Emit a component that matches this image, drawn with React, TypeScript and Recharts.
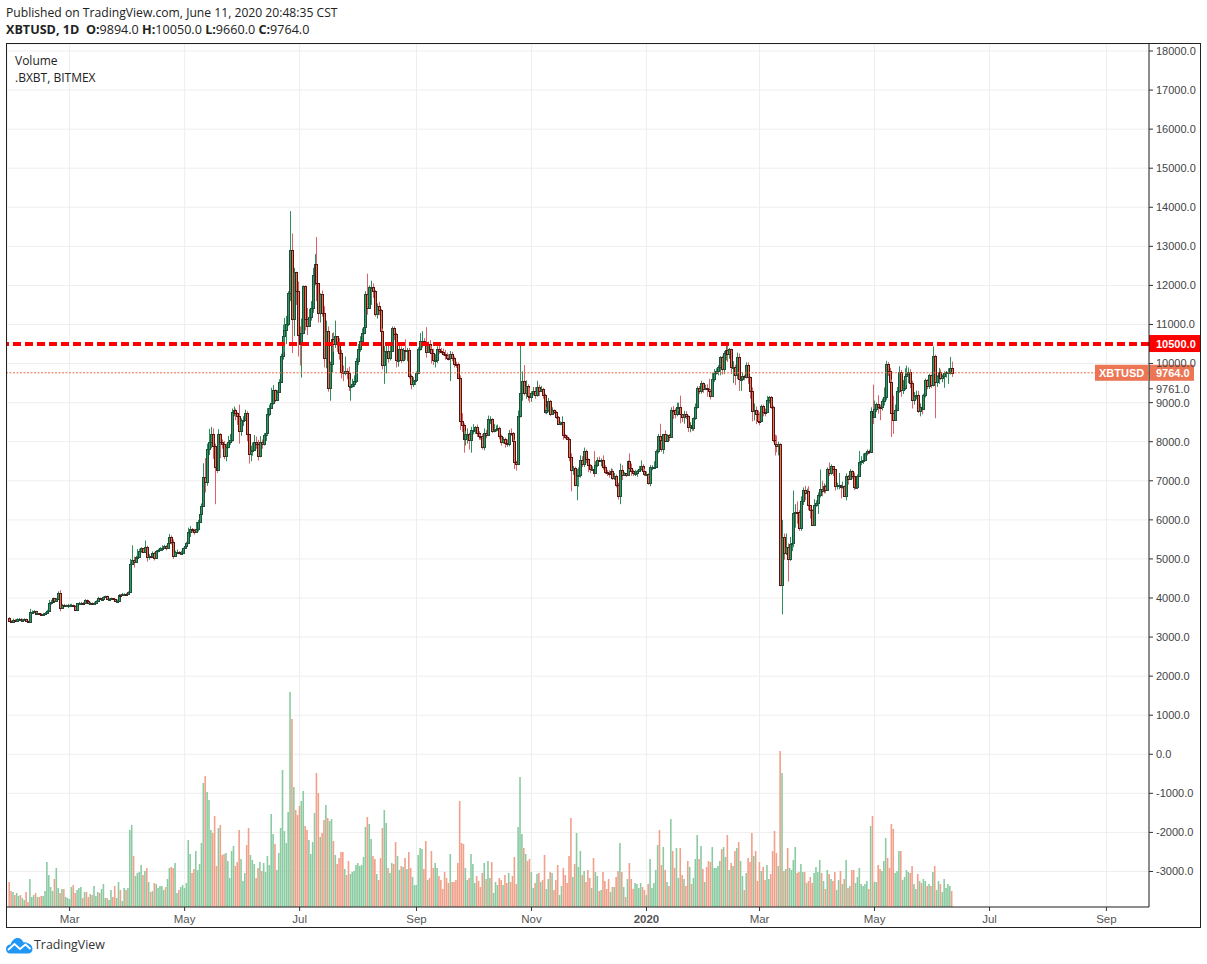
import React from "react";
import { ComposedChart, Bar, XAxis, YAxis, CartesianGrid, ReferenceLine } from "recharts";

const firstOpen = 3500;
const closes = [
  // 2019 Jan 28-31
  3400,3390,3430,3420,
  // Feb
  3450,3470,3430,3440,3460,3400,3390,3640,3640,3660,3600,3610,3590,3580,3590,3610,3670,3880,3900,3990,3930,3980,4130,3750,3820,3810,3810,3810,
  // Mar
  3820,3820,3790,3690,3860,3865,3875,3860,3945,3915,3860,3870,3860,3875,3920,4000,3980,3985,4025,4040,3985,3985,3990,3970,3925,3935,4080,4070,4105,4105,4100,
  // Apr
  4145,4880,4980,4910,5040,5050,5190,5280,5185,5300,5040,5080,5075,5160,5030,5205,5225,5285,5290,5320,5290,5400,5570,5430,5080,5170,5170,5155,5160,5270,
  // May
  5335,5400,5700,5760,5730,5685,5760,5950,6160,6350,7100,6980,7810,7980,8190,7880,7350,7270,8200,7980,7950,7640,7870,7990,8050,8750,8800,8730,8670,8270,8560,
  // Jun
  8560,8740,8200,7680,7800,7800,8000,7930,7630,8000,7930,8170,8220,8700,8850,8980,9330,9080,9270,9530,10200,10700,10850,11000,11800,12900,11130,12350,11850,10720,
  // Jul
  10500,10780,11980,11130,10960,11190,11430,12270,12540,12050,11300,11770,11300,10140,10830,9380,9980,10620,10500,10700,10560,10270,9780,9750,9800,9750,9430,9430,9470,9550,10060,
  // Aug
  10370,10580,10790,10930,11770,11430,11960,11960,11850,11260,11470,11360,10830,9970,10320,10320,10150,10320,10900,10750,10100,10100,10360,10100,10340,10320,10340,9680,9470,9550,9570,
  // Sep
  9760,10360,10580,10580,10540,10300,10490,10360,10270,10080,10080,10370,10320,10300,10250,10220,10150,10130,10250,10130,10000,9990,9640,8530,8430,8060,8190,8200,8050,8300,
  // Oct
  8300,8370,8230,8150,8140,7860,8210,8180,8590,8590,8270,8300,8330,8360,8150,8000,8070,7960,7950,8230,8220,8020,7470,7430,8660,9250,9550,9250,9430,9170,9150,
  // Nov
  9250,9300,9200,9400,9310,9350,9200,8770,8810,9040,8720,8810,8760,8630,8460,8490,8500,8170,8120,8080,7620,7280,7330,6900,7130,7160,7520,7430,7750,7560,
  // Dec
  7400,7300,7300,7200,7400,7540,7510,7530,7340,7220,7200,7190,7250,7070,7120,6880,6620,7280,7150,7190,7150,7510,7320,7250,7190,7200,7250,7310,7390,7250,7170,
  // 2020 Jan
  7180,6950,7340,7350,7350,7760,8150,8040,7810,8190,8020,8180,8110,8820,8810,8720,8900,8900,8700,8620,8720,8660,8380,8430,8340,8600,8890,9380,9300,9500,9340,
  // Feb
  9380,9340,9290,9170,9610,9750,9800,9900,10170,9860,10270,10350,10240,10360,9900,9920,9700,10170,9600,9600,9690,9660,9970,9650,9310,8790,8810,8710,8530,
  // Mar
  8520,8910,8760,8750,9060,9150,8900,8040,7930,7900,7940,4320,5570,5140,5310,5000,5390,5400,6180,6200,6190,5790,6490,6760,6680,6730,6370,6250,5880,6390,6420,
  // Apr
  6640,6790,6730,6860,6770,7300,7200,7370,7300,6860,6890,6900,6850,6860,6620,7110,7040,7260,7130,6830,6850,7130,7490,7510,7540,7700,7770,7740,8790,8620,
  // May
  8830,8970,8900,8880,9030,9150,9990,9810,9540,8730,8560,8810,9310,9790,9320,9380,9680,9730,9780,9510,9060,9170,9190,8790,8900,8840,9200,9570,9430,9700,9450,
  // Jun
  10200,9520,9670,9790,9620,9670,9750,9780,9790,9894,9764,
];

const highs = [
  3510,3430,3470,3460,
  3480,3490,3480,3470,3480,3470,3420,3720,3680,3690,3670,3640,3620,3610,3620,3640,3700,3950,3950,4010,3990,4000,4170,4200,3850,3850,3830,3850,
  3850,3850,3830,3810,3870,3900,3900,3900,3970,3960,3930,3900,3890,3900,3940,4030,4010,4000,4040,4060,4060,4000,4010,4000,3980,3960,4100,4100,4130,4120,4130,
  4170,5000,5350,5060,5080,5250,5260,5300,5280,5470,5340,5120,5120,5190,5180,5230,5260,5300,5350,5360,5350,5420,5640,5600,5500,5210,5240,5200,5210,5290,
  5380,5440,5800,5840,5790,5770,5950,6000,6200,6420,7450,7580,7950,8330,8380,8340,7950,7500,8320,8220,8060,8020,7950,8150,8200,8850,8900,8850,8750,8950,8600,
  8650,8820,8780,8200,7900,7980,8170,8130,8050,8140,8060,8220,8350,8860,8950,9380,9450,9340,9320,9600,10250,11000,11170,11220,11850,13900,13330,12450,12200,12100,
  10950,11150,12000,12000,11420,11400,11600,12450,12800,13240,11850,11800,11870,11470,11100,10950,10050,10780,10800,11100,10680,10650,10350,9950,10180,9880,9920,9590,9610,9700,10140,
  10500,10700,10900,11080,11850,12300,12000,12120,12050,11880,11540,11580,11400,10900,10450,10480,10460,10450,10950,10950,10790,10250,10460,10440,10400,10620,10400,10400,9720,9650,9680,
  9800,10420,10780,10830,10650,10930,10560,10600,10450,10380,10240,10440,10450,10400,10380,10350,10280,10240,10320,10300,10180,10050,10030,9700,8730,8470,8270,8340,8230,8380,
  8450,8400,8440,8270,8180,8200,8340,8300,8670,8650,8600,8450,8420,8440,8390,8180,8120,8100,8060,8300,8340,8250,8050,7510,8800,10540,9800,9960,9570,9470,9380,
  9290,9400,9400,9560,9460,9430,9380,9230,8880,9120,9070,8880,8830,8790,8660,8520,8650,8510,8200,8160,8100,7700,7380,7360,7300,7340,7650,7630,7850,7800,
  7570,7430,7370,7760,7500,7600,7620,7570,7650,7400,7280,7270,7320,7300,7200,7160,6950,7440,7400,7220,7200,7520,7700,7440,7280,7280,7280,7380,7520,7420,7310,
  7240,7190,7400,7400,7500,7800,8200,8460,8050,8200,8290,8190,8200,8880,8910,8850,9000,9000,9180,8700,8790,8780,8680,8500,8460,8620,8980,9420,9430,9560,9520,
  9460,9470,9610,9350,9770,9860,9880,9960,10190,10200,10320,10480,10540,10400,10380,10060,9970,10280,10260,9680,9780,9710,10030,10030,9670,9390,8980,8900,8800,
  8750,8950,8950,8850,9170,9170,9170,8920,8180,8160,8000,7960,6000,5650,5650,5400,5560,5450,6750,6400,6470,6250,6600,6830,6870,6800,6860,6300,6270,6530,6500,
  6700,7290,7000,6930,6900,7340,7470,7420,7380,7300,6950,7200,6900,6980,6880,7190,7150,7300,7270,7210,6920,7160,7760,7630,7700,7720,7800,7800,8880,9460,
  9050,9000,9190,8950,9100,9390,10070,10040,9890,9590,9180,8950,9400,9930,9840,9580,9880,9950,9900,9860,9560,9270,9310,9300,8980,9010,9230,9620,9600,9740,9720,
  10440,10230,9700,9890,9850,9720,9800,9810,9880,10170,10050,
];

const lows = [
  3390,3370,3380,3390,
  3420,3430,3410,3420,3430,3390,3360,3390,3590,3610,3590,3580,3570,3560,3560,3580,3600,3660,3830,3890,3900,3920,3960,3660,3720,3770,3770,3740,
  3780,3790,3770,3670,3680,3840,3850,3830,3850,3890,3840,3820,3840,3850,3870,3910,3950,3950,3960,4000,3970,3950,3970,3950,3900,3900,3920,4040,4050,4080,4070,
  4090,4130,4850,4780,4900,5000,5040,5160,5160,5160,4930,4980,5020,5040,4960,5010,5170,5200,5200,5260,5220,5260,5380,5370,5000,5060,5140,5120,5110,5130,
  5270,5320,5380,5560,5670,5620,5680,5700,5920,6120,6350,6700,6870,7660,7830,7560,6400,7200,7250,7580,7820,7550,7500,7830,7920,8000,8650,8550,8430,7950,8150,
  8400,8550,8010,7440,7500,7640,7800,7820,7520,7600,7820,7900,8020,8160,8650,8850,8950,9010,9070,9270,9500,10100,10300,10500,10960,11600,10270,10700,11500,10180,
  9950,9640,10750,10850,10730,10950,11100,11300,12000,11600,11050,11050,11200,9900,9880,9280,9050,9780,10300,10400,10300,10100,9620,9550,9700,9600,9300,9050,9380,9400,9500,
  9960,10300,10530,10750,10920,11250,11420,11500,11680,11200,11150,11240,10750,9850,9480,9750,10020,10080,10320,10600,9900,9920,10040,10010,10050,10100,10060,9620,9340,9400,9450,
  9550,9730,10330,10410,10460,10150,10280,10250,10000,9960,9900,10010,10250,10260,10200,10100,10100,10080,9550,10060,9900,9890,9600,8300,8250,7720,7900,7950,7800,7720,
  8190,8200,8120,8050,8050,7800,7780,8090,8150,8450,8220,8240,8260,8270,8060,7900,7950,7850,7870,7880,8150,8000,7300,7260,7400,8620,9050,9180,9100,9050,9000,
  9020,9180,9100,9150,9170,9280,9100,8720,8700,8750,8650,8690,8710,8580,8430,8420,8420,8050,8070,8040,7500,6730,7150,6860,6500,6850,7080,7350,7350,7450,
  7220,7200,7250,7100,7200,7350,7480,7370,7280,7170,7120,7080,7160,7020,7020,6830,6520,6400,7020,7120,7100,7130,7260,7130,7120,7120,7100,7240,7260,7200,7120,
  7140,6900,6860,7270,7300,7340,7700,7800,7740,7690,8000,8000,8020,8100,8580,8600,8650,8780,8470,8500,8460,8580,8250,8240,8270,8280,8560,8850,9220,9230,9250,
  9320,9150,9230,9080,9150,9530,9720,9700,9700,9720,9730,10080,10040,10120,9730,9500,9450,9600,9300,9300,9570,9570,9620,9480,9100,8520,8540,8450,8500,
  8420,8500,8650,8650,8730,8980,8840,7980,7650,7730,7650,4300,3580,4980,5100,4420,4950,5200,5300,5800,5900,5720,5720,6380,6500,6500,6250,6030,5860,5850,6330,
  6150,6570,6600,6680,6680,6770,7120,7150,7120,6750,6780,6780,6550,6800,6590,6500,6900,7030,7050,6760,6790,6810,7100,7400,7430,7500,7650,7680,7720,8450,
  8620,8760,8720,8550,8800,8930,9060,9680,9480,8120,8200,8550,8780,9250,9150,9220,9320,9440,9500,9370,8850,8950,9080,8740,8650,8700,8820,9130,9340,9350,9370,
  9420,8600,9400,9480,9580,9520,9380,9640,9480,9720,9660,
];

const volumes = [
  25,16,15,12,14,11,12,9,7,15,5,28,10,12,14,10,10,11,11,16,
  45,32,20,16,28,39,19,14,18,18,10,9,8,20,22,14,17,19,20,9,
  15,15,10,13,12,21,11,15,14,18,23,9,9,7,17,10,21,9,25,17,
  6,19,17,19,77,82,51,31,34,35,42,32,36,39,25,15,16,24,23,19,
  21,21,17,20,28,39,40,39,44,14,17,20,22,19,24,67,53,34,38,56,
  37,43,64,124,131,115,107,77,74,91,41,79,82,52,53,54,46,29,56,61,
  41,45,77,48,26,34,62,79,52,47,43,29,39,45,36,44,35,51,42,93,
  73,63,37,54,79,137,76,64,95,215,188,120,97,92,101,106,116,81,77,67,
  53,65,94,134,114,70,74,87,102,89,86,88,66,52,43,49,55,55,38,32,
  46,33,35,36,42,44,41,42,50,80,90,83,68,51,48,33,27,49,79,97,
  84,39,34,44,43,65,51,37,41,40,49,38,55,39,30,22,22,52,59,58,
  38,66,27,29,56,39,44,39,31,27,18,35,29,24,53,25,25,27,44,106,
  64,63,39,27,29,53,43,24,31,26,20,34,44,28,46,29,45,14,25,22,
  29,27,22,32,24,34,25,31,50,23,80,130,73,59,53,46,48,35,19,24,
  33,34,25,27,52,18,28,35,34,17,27,42,12,21,39,32,24,51,89,30,
  43,74,40,56,32,36,25,37,29,19,49,35,31,16,17,35,26,18,28,15,
  20,20,30,36,64,35,20,10,28,44,28,18,24,23,19,24,20,17,12,23,
  48,19,24,37,62,77,42,60,37,25,21,88,56,39,59,29,59,32,28,21,
  46,40,23,29,48,72,48,61,38,25,40,46,45,60,39,39,41,46,58,60,
  50,72,37,44,41,56,59,65,46,31,17,34,49,45,74,51,56,26,45,36,
  40,27,42,28,33,56,76,54,41,156,134,36,38,59,39,37,47,60,34,35,
  43,35,35,24,26,30,24,34,40,35,47,34,26,18,37,33,28,26,35,17,
  27,36,23,28,47,19,21,37,37,24,30,39,23,21,23,26,18,81,91,25,
  25,42,38,36,46,69,49,39,83,78,34,36,56,56,27,30,37,35,34,41,
  23,18,33,26,24,28,26,21,23,21,35,41,17,26,23,15,28,19,23,21,16,
];

const monthTicks = [32, 93, 154, 216, 277, 338, 398, 459, 520, 582];
const monthLabels = ["Mar", "May", "Jul", "Sep", "Nov", "2020", "Mar", "May", "Jul", "Sep"];
const priceTicks = [
  -3000, -2000, -1000, 0, 1000, 2000, 3000, 4000, 5000, 6000, 7000, 8000, 9000, 10000,
  11000, 12000, 13000, 14000, 15000, 16000, 17000, 18000,
];
const resistance = 10500;
const lastClose = 9764;
const countdownValue = "9761.0";

const table = closes.map((close, i) => {
  const open = i === 0 ? firstOpen : closes[i - 1];
  const high = Math.max(highs[i], open, close);
  const low = Math.min(lows[i], open, close);
  return { i, open, close, high, low, range: [low, high], volume: volumes[i] ?? 0 };
});

const UP_FILL = "#2f9a64";
const UP_EDGE = "#1f4f3a";
const UP_WICK = "#2f8f5c";
const DOWN_FILL = "#ee7350";
const DOWN_EDGE = "#541515";
const DOWN_WICK = "#de616a";
const SANS = '"Liberation Sans", Arial, sans-serif';
const HEAD = '"Open Sans", sans-serif';

function Candle(props: any) {
  const { x, y, width, height, payload } = props;
  const { open, close, high, low } = payload;
  const span = high - low || 1;
  const yOf = (v: number) => y + ((high - v) * height) / span;
  const up = close >= open;
  const cx = Math.round(x + width / 2) + 0.5;
  const top = Math.round(yOf(Math.max(open, close))) + 0.5;
  const bottom = Math.round(yOf(Math.min(open, close))) + 0.5;
  return (
    <g>
      <line x1={cx} x2={cx} y1={y} y2={y + height} stroke={up ? UP_WICK : DOWN_WICK} strokeWidth={1} />
      <rect
        x={cx - 1}
        y={top}
        width={2}
        height={Math.max(bottom - top, 1)}
        fill={up ? UP_FILL : DOWN_FILL}
        stroke={up ? UP_EDGE : DOWN_EDGE}
        strokeWidth={1}
      />
    </g>
  );
}

function VolumeBar(props: any) {
  const { x, y, width, height, payload } = props;
  return (
    <rect x={x} y={y} width={width} height={height} fill={payload.close >= payload.open ? "#8bcba2" : "#f1a08a"} />
  );
}

function MonthTick(props: any) {
  const { x, y, payload } = props;
  const label = monthLabels[monthTicks.indexOf(payload.value)];
  return (
    <text
      x={x}
      y={y}
      dy={10}
      textAnchor="middle"
      fontFamily={SANS}
      fontSize={11.5}
      fontWeight={label === "2020" ? 700 : 400}
      fill="#555"
    >
      {label}
    </text>
  );
}

function ResistanceTag(props: any) {
  const { viewBox } = props;
  const right = viewBox.x + viewBox.width;
  const y = viewBox.y;
  return (
    <g>
      <rect x={right} y={y - 9} width={51} height={17} fill="#ff0000" />
      <text x={right + 7} y={y + 4} fontFamily={SANS} fontSize={11} fontWeight={700} fill="#fff">
        {resistance.toFixed(1)}
      </text>
    </g>
  );
}

function LastPriceTag(props: any) {
  const { viewBox } = props;
  const right = viewBox.x + viewBox.width;
  const y = viewBox.y;
  return (
    <g>
      <rect x={right - 54} y={y - 8} width={53} height={16} fill="#ec7553" />
      <text x={right - 50} y={y + 4} fontFamily={SANS} fontSize={11} fontWeight={700} fill="#fff">
        XBTUSD
      </text>
      <rect x={right} y={y - 8} width={45} height={16} fill="#ec7553" />
      <text x={right + 7} y={y + 4} fontFamily={SANS} fontSize={11} fontWeight={700} fill="#fff">
        {lastClose.toFixed(1)}
      </text>
      <line x1={right} x2={right + 4} y1={y + 16} y2={y + 16} stroke="#333" />
      <text x={right + 7} y={y + 20} fontFamily={SANS} fontSize={11} fill="#444">
        {countdownValue}
      </text>
    </g>
  );
}

const textAt = (left: number, top: number, extra: React.CSSProperties = {}): React.CSSProperties => ({
  position: "absolute",
  left,
  top,
  fontFamily: HEAD,
  fontSize: 12,
  lineHeight: "16px",
  color: "#222",
  whiteSpace: "nowrap",
  ...extra,
});

export default function App() {
  return (
    <div style={{ position: "absolute", left: 0, top: 0, width: 1207, height: 964, background: "#fff", overflow: "hidden" }}>
      <div style={textAt(6, 5, { fontSize: 12.15 })}>Published on TradingView.com, June 11, 2020 20:48:35 CST</div>
      <div style={textAt(6, 22, { fontSize: 12.6 })}>
        <b>XBTUSD, 1D</b>&nbsp; <b>O:</b>9894.0 <b>H:</b>10050.0 <b>L:</b>9660.0 <b>C:</b>9764.0
      </div>
      <ComposedChart
        width={1207}
        height={964}
        data={table}
        margin={{ top: 44, right: 7, bottom: 37, left: 7 }}
        barGap={0}
        style={{ position: "absolute", left: 0, top: 0 }}
      >
        <CartesianGrid stroke="#eeeeee" strokeWidth={1} />
        <XAxis
          dataKey="i"
          type="number"
          domain={[-1.23, 604.6]}
          ticks={monthTicks}
          interval={0}
          allowDataOverflow
          height={20}
          tick={MonthTick}
          tickSize={4}
          tickLine={{ stroke: "#333" }}
          axisLine={{ stroke: "#222" }}
        />
        <XAxis xAxisId="v" dataKey="i" type="number" domain={[-1.23, 604.6]} allowDataOverflow hide />
        <YAxis
          orientation="right"
          type="number"
          domain={[-3909, 18179]}
          ticks={priceTicks}
          interval={0}
          allowDataOverflow
          width={51}
          tickFormatter={(v: number) => v.toFixed(1)}
          tick={{ fontFamily: SANS, fontSize: 11, fill: "#444" }}
          tickSize={4}
          tickMargin={3}
          tickLine={{ stroke: "#333" }}
          axisLine={{ stroke: "#222" }}
        />
        <YAxis yAxisId="v" type="number" domain={[0, 863]} allowDataOverflow hide />
        <Bar xAxisId="v" yAxisId="v" dataKey="volume" barSize={1.6} shape={VolumeBar} isAnimationActive={false} />
        <Bar dataKey="range" barSize={3} shape={Candle} isAnimationActive={false} />
        <ReferenceLine y={lastClose} stroke="#ee6f4d" strokeWidth={1} strokeDasharray="2 1.5" label={LastPriceTag} />
        <ReferenceLine y={resistance} stroke="#ff0000" strokeWidth={4} strokeDasharray="8 4" label={ResistanceTag} />
      </ComposedChart>
      <div
        style={{
          position: "absolute",
          left: 6,
          top: 43,
          width: 1193,
          height: 883,
          border: "1px solid #222",
          pointerEvents: "none",
        }}
      />
      <div style={textAt(15, 53)}>Volume</div>
      <div style={textAt(15, 70)}>.BXBT, BITMEX</div>
      <svg width={28} height={18} viewBox="0 0 28 18" style={{ position: "absolute", left: 5, top: 936 }}>
        <path
          d="M1 13 C1 10 3 8.5 5.5 8.5 C7 4.5 9.5 2 12.5 2 C15.5 2 17.5 3.8 18.6 6.6 C20 6 21.5 6.2 22.5 7.2 C25.5 7.6 27.5 10 27.5 13 C27.5 15.8 25.5 17.5 23 17.5 L5 17.5 C2.6 17.5 1 15.6 1 13 Z"
          fill="#2196f3"
        />
        <path d="M3 14 L9.5 8 L15 13 L20.5 8.5 L25.5 13" fill="none" stroke="#fff" strokeWidth={1.8} />
      </svg>
      <div style={textAt(34, 936, { fontSize: 12.4, lineHeight: "18px", color: "#333" })}>TradingView</div>
    </div>
  );
}
